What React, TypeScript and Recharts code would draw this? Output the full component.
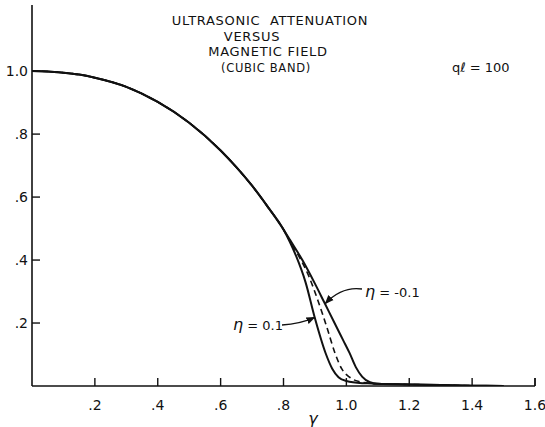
import { LineChart, Line, XAxis, YAxis } from "recharts";

// common part of the three curves (all etas overlap here)
const commonX = [0, 0.05, 0.1, 0.15, 0.2, 0.3, 0.4, 0.5, 0.6, 0.65, 0.7, 0.75, 0.8];
const commonY = [1.0, 0.999, 0.995, 0.989, 0.979, 0.95, 0.902, 0.836, 0.748, 0.695, 0.636, 0.569, 0.497];

// eta = 0.1 (drops first)
const etaPlusX = [0.82, 0.84, 0.87, 0.9, 0.934, 0.955, 0.975, 1.0, 1.05, 1.08];
const etaPlusY = [0.458, 0.413, 0.33, 0.215, 0.104, 0.055, 0.028, 0.016, 0.009, 0.008];

// eta = 0 (dashed)
const etaZeroX = [0.82, 0.85, 0.88, 0.91, 0.94, 0.964, 0.985, 1.01, 1.04, 1.08];
const etaZeroY = [0.462, 0.41, 0.35, 0.27, 0.18, 0.104, 0.055, 0.028, 0.014, 0.008];

// eta = -0.1
const etaMinusX = [0.82, 0.86, 0.9, 0.93, 0.96, 0.99, 1.01, 1.03, 1.05, 1.075];
const etaMinusY = [0.465, 0.4, 0.325, 0.265, 0.205, 0.145, 0.105, 0.06, 0.03, 0.012];

// shared tail
const tailX = [1.1, 1.2, 1.3, 1.4, 1.5];
const tailY = [0.007, 0.005, 0.003, 0.001, 0.0];

const xTicks = [0.2, 0.4, 0.6, 0.8, 1.0, 1.2, 1.4, 1.6];
const yTicks = [0.2, 0.4, 0.6, 0.8, 1.0];

const titleLines = ["ULTRASONIC  ATTENUATION", "VERSUS", "MAGNETIC FIELD", "(CUBIC BAND)"];

const build = (xs: number[], ys: number[]) => {
  const pts = [];
  for (let i = 0; i < commonX.length; i++) pts.push({ x: commonX[i], y: commonY[i] });
  for (let i = 0; i < xs.length; i++) pts.push({ x: xs[i], y: ys[i] });
  for (let i = 0; i < tailX.length; i++) pts.push({ x: tailX[i], y: tailY[i] });
  return pts;
};

const W = 545;
const H = 427;
const M = { top: 5, right: 10, left: 4, bottom: 11 };
const Y_W = 28;
const X_H = 30;
const X_MAX = 1.6;
const Y_MAX = 1.21;
const plotL = M.left + Y_W;
const plotR = W - M.right;
const plotT = M.top;
const plotB = H - M.bottom - X_H;
const px = (v: number) => plotL + (v / X_MAX) * (plotR - plotL);
const py = (v: number) => plotB - (v / Y_MAX) * (plotB - plotT);

const FONT = "'DejaVu Sans', sans-serif";
const INK = "#111";

const fmt = (v: number) => (v < 1 ? v.toFixed(1).slice(1) : v.toFixed(1));

const XTick = (props: any) => {
  const { x, y, payload } = props;
  return (
    <g>
      <line x1={x} x2={x} y1={y} y2={y - 8} stroke={INK} strokeWidth={1.4} />
      <text x={x} y={y + 24} textAnchor="middle" fontSize={14} fill={INK} fontFamily={FONT}>
        {fmt(payload.value)}
      </text>
    </g>
  );
};

const YTick = (props: any) => {
  const { x, y, payload } = props;
  return (
    <g>
      <line x1={x} x2={x + 8} y1={y} y2={y} stroke={INK} strokeWidth={1.4} />
      <text x={x - 4} y={y + 5} textAnchor="end" fontSize={14} fill={INK} fontFamily={FONT}>
        {fmt(payload.value)}
      </text>
    </g>
  );
};

export default function App() {
  const tipMinus = { x: px(0.933), y: py(0.262) };
  const tipPlus = { x: px(0.899), y: py(0.218) };
  return (
    <div style={{ position: "absolute", left: 0, top: 0, width: W, height: H, background: "#fff" }}>
      <LineChart width={W} height={H} margin={M}>
        <XAxis
          type="number"
          dataKey="x"
          domain={[0, X_MAX]}
          ticks={xTicks}
          height={X_H}
          tickSize={0}
          tickMargin={0}
          tickLine={false}
          tick={<XTick />}
          stroke={INK}
          strokeWidth={1.6}
          allowDataOverflow
        />
        <YAxis
          type="number"
          dataKey="y"
          domain={[0, Y_MAX]}
          ticks={yTicks}
          width={Y_W}
          tickSize={0}
          tickMargin={0}
          tickLine={false}
          tick={<YTick />}
          stroke={INK}
          strokeWidth={1.6}
          allowDataOverflow
        />
        <Line
          data={build(etaPlusX, etaPlusY)}
          dataKey="y"
          type="monotone"
          stroke={INK}
          strokeWidth={2}
          dot={false}
          isAnimationActive={false}
        />
        <Line
          data={build(etaZeroX, etaZeroY)}
          dataKey="y"
          type="monotone"
          stroke={INK}
          strokeWidth={1.6}
          strokeDasharray="6 4"
          dot={false}
          isAnimationActive={false}
        />
        <Line
          data={build(etaMinusX, etaMinusY)}
          dataKey="y"
          type="monotone"
          stroke={INK}
          strokeWidth={2}
          dot={false}
          isAnimationActive={false}
        />
      </LineChart>
      <svg
        width={W}
        height={H}
        style={{ position: "absolute", left: 0, top: 0, pointerEvents: "none" }}
        fontFamily={FONT}
        fill={INK}
      >
        <defs>
          <marker id="ah" viewBox="0 0 10 10" refX="9" refY="5" markerWidth="7" markerHeight="7" orient="auto">
            <path d="M0,1 L10,5 L0,9 Z" fill={INK} />
          </marker>
        </defs>
        <line x1={plotR} x2={plotR} y1={plotB} y2={plotB - 8} stroke={INK} strokeWidth={1.4} />
        {titleLines.map((t, i) => (
          <text
            key={t}
            x={[270, 252, 268, 266][i]}
            y={25 + i * 15.5}
            textAnchor="middle"
            fontSize={i === 3 ? 11.5 : 13}
            letterSpacing={0.7}
            style={{ whiteSpace: "pre" }}
          >
            {t}
          </text>
        ))}
        <text x={452} y={72} fontSize={13}>
          qℓ = 100
        </text>
        <text x={365} y={297} fontSize={13}>
          <tspan fontStyle="italic" fontSize={16}>η</tspan> = -0.1
        </text>
        <path
          d={`M 362 289 Q 342 286 ${tipMinus.x} ${tipMinus.y}`}
          stroke={INK}
          strokeWidth={1.3}
          fill="none"
          markerEnd="url(#ah)"
        />
        <text x={233} y={330} fontSize={13}>
          <tspan fontStyle="italic" fontSize={16}>η</tspan> = 0.1
        </text>
        <path
          d={`M 282 325 Q 300 324 ${tipPlus.x} ${tipPlus.y}`}
          stroke={INK}
          strokeWidth={1.3}
          fill="none"
          markerEnd="url(#ah)"
        />
        <text x={313} y={424} textAnchor="middle" fontSize={16} fontStyle="italic">
          γ
        </text>
      </svg>
    </div>
  );
}
